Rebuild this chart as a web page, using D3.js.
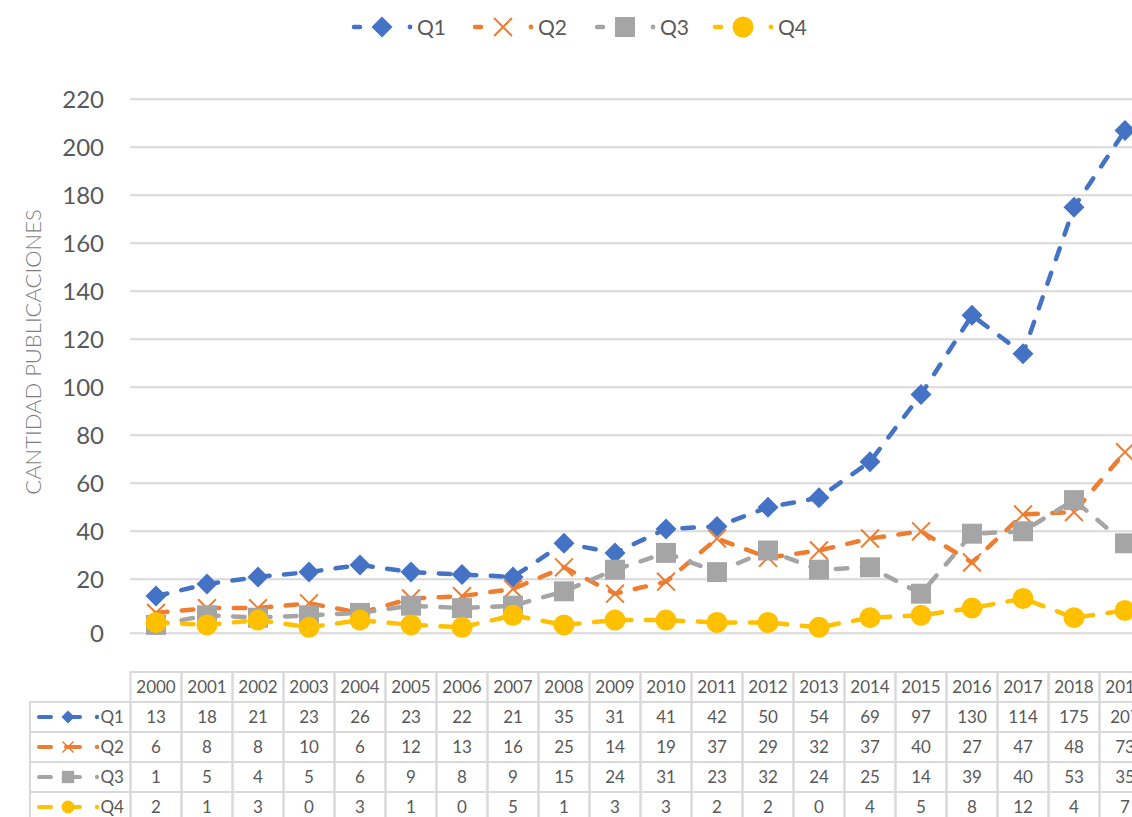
<!DOCTYPE html>
<html>
<head>
<meta charset="utf-8">
<script src="https://cdn.jsdelivr.net/npm/d3@7"></script>
<style>
  body { margin: 0; background: #fff; }
  svg { display: block; font-family: Lato, "Open Sans", sans-serif; }
</style>
</head>
<body>
<svg id="chart" width="1132" height="817"></svg>
<script>
// data
var years = ["2000", "2001", "2002", "2003", "2004", "2005", "2006", "2007", "2008", "2009",
             "2010", "2011", "2012", "2013", "2014", "2015", "2016", "2017", "2018", "2019"];
var q1 = [13, 18, 21, 23, 26, 23, 22, 21, 35, 31, 41, 42, 50, 54, 69, 97, 130, 114, 175, 207];
var q2 = [6, 8, 8, 10, 6, 12, 13, 16, 25, 14, 19, 37, 29, 32, 37, 40, 27, 47, 48, 73];
var q3 = [1, 5, 4, 5, 6, 9, 8, 9, 15, 24, 31, 23, 32, 24, 25, 14, 39, 40, 53, 35];
var q4 = [2, 1, 3, 0, 3, 1, 0, 5, 1, 3, 3, 2, 2, 0, 4, 5, 8, 12, 4, 7];
var seriesNames = ["Q1", "Q2", "Q3", "Q4"];
var seriesValues = [q1, q2, q3, q4];
var seriesColors = ["#4472c4", "#ed7d31", "#a5a5a5", "#ffc000"];
var markerTypes = ["diamond", "cross", "square", "circle"];
var yTicks = [0, 20, 40, 60, 80, 100, 120, 140, 160, 180, 200, 220];
var yTitle = "CANTIDAD PUBLICACIONES";

var svg = d3.select('#chart');
var textColor = '#595959';
var gridColor = '#d9d9d9';

var x = d3.scaleBand().domain(years).range([130.5, 1150.5]);
var y = d3.scaleLinear().domain([0, 220]).range([627.3, 99.3]);
var cx = function(i) { return x(years[i]) + x.bandwidth() / 2; };

/*************************** GRID + Y AXIS ***************************/
// the zero line sits a little lower than the scale in the original
var gy = function(v) { return v === 0 ? y(0) + 6 : y(v); };

svg.append('g').selectAll('line')
    .data(yTicks)
  .enter().append('line')
    .attr('x1', 130).attr('x2', 1132)
    .attr('y1', gy).attr('y2', gy)
    .attr('stroke', gridColor)
    .attr('stroke-width', 2);

svg.append('g').selectAll('text')
    .data(yTicks)
  .enter().append('text')
    .attr('x', 104)
    .attr('y', gy)
    .attr('dy', '0.36em')
    .attr('text-anchor', 'end')
    .attr('fill', textColor)
    .style('font-size', '24px')
    .text(function(d) { return d; });

svg.append('text')
    .attr('transform', 'translate(33,352) rotate(-90)')
    .attr('text-anchor', 'middle')
    .attr('dy', '0.36em')
    .attr('fill', '#7f7f7f')
    .style('font-size', '22px')
    .style('font-weight', 300)
    .text(yTitle);

/*************************** MARKERS ***************************/
function drawMarker(g, type, color, px, py, s) {
  if (type === 'diamond') {
    g.append('path')
      .attr('d', 'M' + px + ',' + (py - s) + 'L' + (px + s) + ',' + py + 'L' + px + ',' + (py + s) + 'L' + (px - s) + ',' + py + 'Z')
      .attr('fill', color);
  } else if (type === 'cross') {
    var c = s * 0.85;
    g.append('path')
      .attr('d', 'M' + (px - c) + ',' + (py - c) + 'L' + (px + c) + ',' + (py + c) + 'M' + (px + c) + ',' + (py - c) + 'L' + (px - c) + ',' + (py + c))
      .attr('stroke', color)
      .attr('stroke-width', s > 8 ? 2 : 1.5)
      .attr('fill', 'none');
  } else if (type === 'square') {
    var h = s * 0.95;
    g.append('rect')
      .attr('x', px - h).attr('y', py - h)
      .attr('width', 2 * h).attr('height', 2 * h)
      .attr('fill', color);
  } else {
    g.append('circle')
      .attr('cx', px).attr('cy', py)
      .attr('r', s)
      .attr('fill', color);
  }
}

/*************************** LINES ***************************/
var line = d3.line()
    .x(function(d, i) { return cx(i); })
    .y(function(d) { return y(d); });

var plot = svg.append('g');
seriesValues.forEach(function(vals, k) {
  plot.append('path')
      .datum(vals)
      .attr('d', line)
      .attr('fill', 'none')
      .attr('stroke', seriesColors[k])
      .attr('stroke-width', 4.5)
      .attr('stroke-linecap', 'round')
      .attr('stroke-dasharray', '11.5,14.5');
});
seriesValues.forEach(function(vals, k) {
  var mg = plot.append('g');
  vals.forEach(function(v, i) {
    drawMarker(mg, markerTypes[k], seriesColors[k], cx(i), y(v), 10.5);
  });
});

/*************************** LEGEND ***************************/
var legendX = [382, 503, 625, 743];
seriesNames.forEach(function(name, k) {
  var lg = svg.append('g');
  var mx = legendX[k], my = 27;
  lg.append('line')
      .attr('x1', mx - 28).attr('x2', mx - 22)
      .attr('y1', my).attr('y2', my)
      .attr('stroke', seriesColors[k]).attr('stroke-width', 4.5)
      .attr('stroke-linecap', 'round');
  drawMarker(lg, markerTypes[k], seriesColors[k], mx, my, 10.5);
  lg.append('circle')
      .attr('cx', mx + 28).attr('cy', my).attr('r', 2.4)
      .attr('fill', seriesColors[k]);
  lg.append('text')
      .attr('x', mx + 35).attr('y', my)
      .attr('dy', '0.36em')
      .attr('fill', textColor)
      .style('font-size', '21px')
      .text(name);
});

/*************************** DATA TABLE ***************************/
var rowTop = 672, rowH = 30;
var table = svg.append('g');

// header cells
table.selectAll('rect.head')
    .data(years)
  .enter().append('rect')
    .attr('class', 'head')
    .attr('x', function(d) { return x(d); })
    .attr('y', rowTop)
    .attr('width', x.bandwidth())
    .attr('height', rowH)
    .attr('fill', 'none')
    .attr('stroke', gridColor)
    .attr('stroke-width', 2);

table.selectAll('text.head')
    .data(years)
  .enter().append('text')
    .attr('class', 'head')
    .attr('x', function(d) { return x(d) + x.bandwidth() / 2; })
    .attr('y', rowTop + rowH / 2)
    .attr('dy', '0.36em')
    .attr('text-anchor', 'middle')
    .attr('fill', textColor)
    .style('font-size', '17px')
    .text(function(d) { return d; });

seriesValues.forEach(function(vals, k) {
  var ry = rowTop + rowH * (k + 1);
  var row = table.append('g');

  row.append('rect')
      .attr('x', 30).attr('y', ry)
      .attr('width', 100.5).attr('height', rowH)
      .attr('fill', 'none')
      .attr('stroke', gridColor).attr('stroke-width', 2);

  row.selectAll('rect.cell')
      .data(vals)
    .enter().append('rect')
      .attr('class', 'cell')
      .attr('x', function(d, i) { return x(years[i]); })
      .attr('y', ry)
      .attr('width', x.bandwidth())
      .attr('height', rowH)
      .attr('fill', 'none')
      .attr('stroke', gridColor).attr('stroke-width', 2);

  row.selectAll('text.cell')
      .data(vals)
    .enter().append('text')
      .attr('class', 'cell')
      .attr('x', function(d, i) { return cx(i); })
      .attr('y', ry + rowH / 2)
      .attr('dy', '0.36em')
      .attr('text-anchor', 'middle')
      .attr('fill', textColor)
      .style('font-size', '17px')
      .text(function(d) { return d; });

  // legend key in the table
  var ky = ry + rowH / 2, kx = 68;
  row.append('line')
      .attr('x1', 39).attr('x2', 51).attr('y1', ky).attr('y2', ky)
      .attr('stroke', seriesColors[k]).attr('stroke-width', 4)
      .attr('stroke-linecap', 'round');
  row.append('line')
      .attr('x1', 66).attr('x2', 80).attr('y1', ky).attr('y2', ky)
      .attr('stroke', seriesColors[k]).attr('stroke-width', 4)
      .attr('stroke-linecap', 'round');
  drawMarker(row, markerTypes[k], seriesColors[k], kx, ky, 6.5);
  row.append('circle')
      .attr('cx', 97).attr('cy', ky).attr('r', 2.2)
      .attr('fill', seriesColors[k]);
  row.append('text')
      .attr('x', 124).attr('y', ky)
      .attr('dy', '0.36em')
      .attr('text-anchor', 'end')
      .attr('fill', textColor)
      .style('font-size', '17px')
      .text(seriesNames[k]);
});
</script>
</body>
</html>
